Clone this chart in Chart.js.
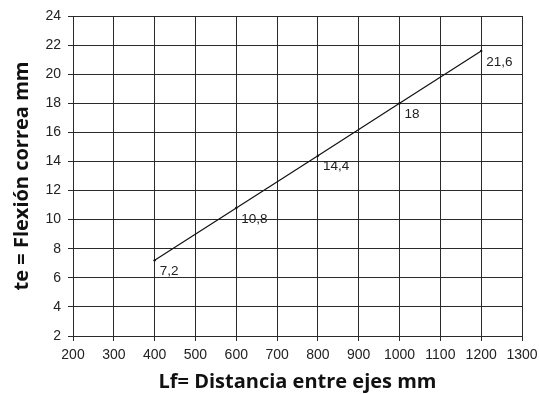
<!DOCTYPE html>
<html><head><meta charset="utf-8">
<script src="https://cdn.jsdelivr.net/npm/chart.js@4/dist/chart.umd.min.js"></script>
<style>html,body{margin:0;padding:0;background:#fff}#w{width:539px;height:394px}</style>
</head><body><div id="w"><canvas id="c"></canvas></div>
<script>
const xValues = [400, 600, 800, 1000, 1200];
const yValues = [7.2, 10.8, 14.4, 18, 21.6];
const pointLabels = ["7,2", "10,8", "14,4", "18", "21,6"];
const xTitle = "Lf= Distancia entre ejes mm";
const yTitle = "te = Flexión correa mm";

const tickFont = { size: 14, family: "'Liberation Sans', Arial, sans-serif" };

const labelPlugin = {
  id: 'ptLabels',
  afterDatasetsDraw(chart) {
    const ctx = chart.ctx, xs = chart.scales.x, ys = chart.scales.y;
    ctx.save();
    ctx.font = "13.5px 'Liberation Sans', Arial, sans-serif";
    ctx.fillStyle = '#222';
    ctx.textAlign = 'left';
    ctx.textBaseline = 'middle';
    xValues.forEach((x, i) => {
      ctx.fillText(pointLabels[i], xs.getPixelForValue(x) + 5, ys.getPixelForValue(yValues[i]) + 11);
    });
    ctx.restore();
  }
};

new Chart(document.getElementById('c'), {
  type: 'scatter',
  data: { datasets: [{
    data: xValues.map((x, i) => ({x, y: yValues[i]})),
    showLine: true, borderColor: '#111', borderWidth: 1.2,
    pointRadius: 1.2, pointBackgroundColor: '#111', pointBorderWidth: 0
  }]},
  options: {
    responsive: true, maintainAspectRatio: false, animation: false,
    layout: { padding: { top: 16, right: 17, left: 0, bottom: 0 } },
    plugins: { legend: { display: false }, tooltip: { enabled: false } },
    scales: {
      x: {
        type: 'linear', min: 200, max: 1300,
        afterFit(s) { s.height = 58; s.paddingLeft = 0; s.paddingRight = 0; },
        ticks: { stepSize: 100, color: '#222', font: tickFont, padding: 6, maxRotation: 0, callback: v => String(v) },
        grid: { color: '#2a2a2a', lineWidth: 1, tickLength: 5 },
        border: { color: '#2a2a2a' },
        title: { display: true, text: xTitle, color: '#111', font: { size: 20, weight: 'bold', family: "'Open Sans', 'Noto Sans', sans-serif" }, padding: { top: 0, bottom: 0 } }
      },
      y: {
        min: 2, max: 24,
        afterFit(s) { s.width = 73; s.paddingTop = 0; s.paddingBottom = 0; },
        ticks: { stepSize: 2, color: '#222', font: tickFont, padding: 7, callback: v => String(v) },
        grid: { color: '#2a2a2a', lineWidth: 1, tickLength: 5 },
        border: { color: '#2a2a2a' },
        title: { display: true, text: yTitle, color: '#111', font: { size: 20, weight: 'bold', family: "'Open Sans', 'Noto Sans', sans-serif" }, padding: { top: 10, bottom: 0 } }
      }
    }
  },
  plugins: [labelPlugin]
});
</script></body></html>
